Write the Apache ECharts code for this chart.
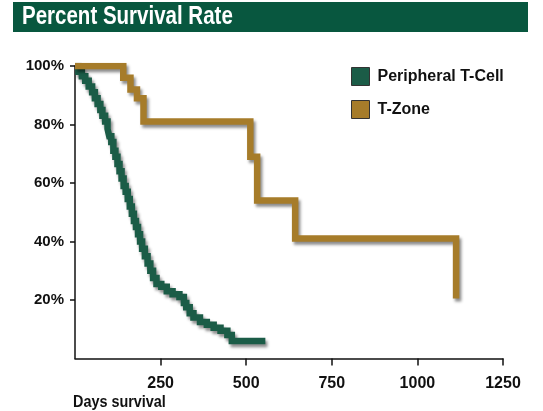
<!DOCTYPE html>
<html>
<head>
<meta charset="utf-8">
<script src="https://cdn.jsdelivr.net/npm/echarts@6/dist/echarts.min.js"></script>
<style>
  html, body { margin: 0; padding: 0; background: #fff; }
  #chart { width: 543px; height: 411px; }
</style>
</head>
<body>
<div id="chart"></div>
<script>
// Peripheral T-Cell survival (days, percent)
const ptclDays = [0, 10, 20, 30, 40, 50, 58, 66, 74, 80, 88, 95, 100, 106, 112, 118, 124, 130, 136, 142,
  148, 154, 160, 166, 172, 178, 184, 190, 196, 204, 212, 220, 228, 238, 252, 268, 285, 305, 318, 325,
  335, 346, 365, 385, 405, 425, 445, 458, 556]
const ptclSurv = [100, 98, 96.5, 95, 93, 91, 89, 87, 85, 83, 81, 78.5, 76, 74, 71, 69, 66.5, 64, 61.5, 59,
  57, 54.5, 52, 49.5, 47, 45, 42.5, 40, 37.5, 35, 32.5, 30, 27.5, 25.5, 24.5, 23, 22, 21, 19, 17.5,
  15.5, 14, 12.5, 11.5, 10.5, 9.5, 8, 6, 6]

// T-Zone survival (days, percent)
const tzoneDays = [0, 141, 162, 181, 200, 512, 532, 643, 1113]
const tzoneSurv = [100, 96, 92, 89, 81, 69, 54, 41, 20.5]

const seriesNames = ['Peripheral T-Cell', 'T-Zone']
const seriesColors = ['#1b5c47', '#a67c2a']

const font = "'Liberation Sans', Arial, sans-serif"

const chart = echarts.init(document.getElementById('chart'))

const lineSeries = (name, days, surv, color) => ({
  name,
  type: 'line',
  step: 'end',
  symbol: 'none',
  data: days.map((d, i) => [d, surv[i]]),
  lineStyle: {
    color,
    width: 6.5,
    join: 'miter',
    cap: 'butt',
    shadowColor: 'rgba(0,0,0,0.45)',
    shadowBlur: 3,
    shadowOffsetX: 2,
    shadowOffsetY: 3
  },
  itemStyle: { color },
  animation: false
})

chart.setOption({
  animation: false,
  grid: { left: 75, right: 40, top: 66, bottom: 52.5 },
  graphic: [
    { type: 'rect', shape: { x: 13, y: 2, width: 515, height: 30 }, style: { fill: '#08573f' } },
    {
      type: 'text', x: 22, y: 5, scaleX: 0.82,
      style: { text: 'Percent Survival Rate', fill: '#fff', font: 'bold 25px ' + font }
    },
    {
      type: 'text', x: 73, y: 395, scaleX: 0.9,
      style: { text: 'Days survival', fill: '#111', font: 'bold 16px ' + font }
    }
  ],
  legend: {
    orient: 'vertical',
    left: 346,
    top: 62,
    itemWidth: 18,
    itemHeight: 18,
    itemGap: 14,
    icon: 'rect',
    data: seriesNames.map((n, i) => ({
      name: n,
      itemStyle: { color: seriesColors[i], borderColor: '#333', borderWidth: 1 }
    })),
    textStyle: { fontFamily: font, fontWeight: 'bold', fontSize: 16, color: '#111', padding: [0, 0, 0, 3] }
  },
  xAxis: {
    type: 'value',
    min: 0,
    max: 1250,
    interval: 250,
    splitLine: { show: false },
    axisLine: { lineStyle: { color: '#111', width: 1.5 } },
    axisTick: { show: true, length: 7, lineStyle: { color: '#111', width: 1.5 } },
    axisLabel: {
      showMinLabel: false,
      margin: 17,
      color: '#111',
      fontFamily: font,
      fontWeight: 'bold',
      fontSize: 16,
      formatter: v => String(v)
    }
  },
  yAxis: {
    type: 'value',
    min: 0,
    max: 100,
    interval: 20,
    splitLine: { show: false },
    axisLine: { show: true, lineStyle: { color: '#111', width: 1.5 } },
    axisTick: { show: true, length: 5, lineStyle: { color: '#111', width: 1.5 } },
    axisLabel: {
      showMinLabel: false,
      margin: 11,
      color: '#111',
      fontFamily: font,
      fontWeight: 'bold',
      fontSize: 15,
      formatter: '{value}%'
    }
  },
  series: [
    lineSeries(seriesNames[0], ptclDays, ptclSurv, seriesColors[0]),
    lineSeries(seriesNames[1], tzoneDays, tzoneSurv, seriesColors[1])
  ]
})

window.addEventListener('resize', () => chart.resize())
</script>
</body>
</html>
